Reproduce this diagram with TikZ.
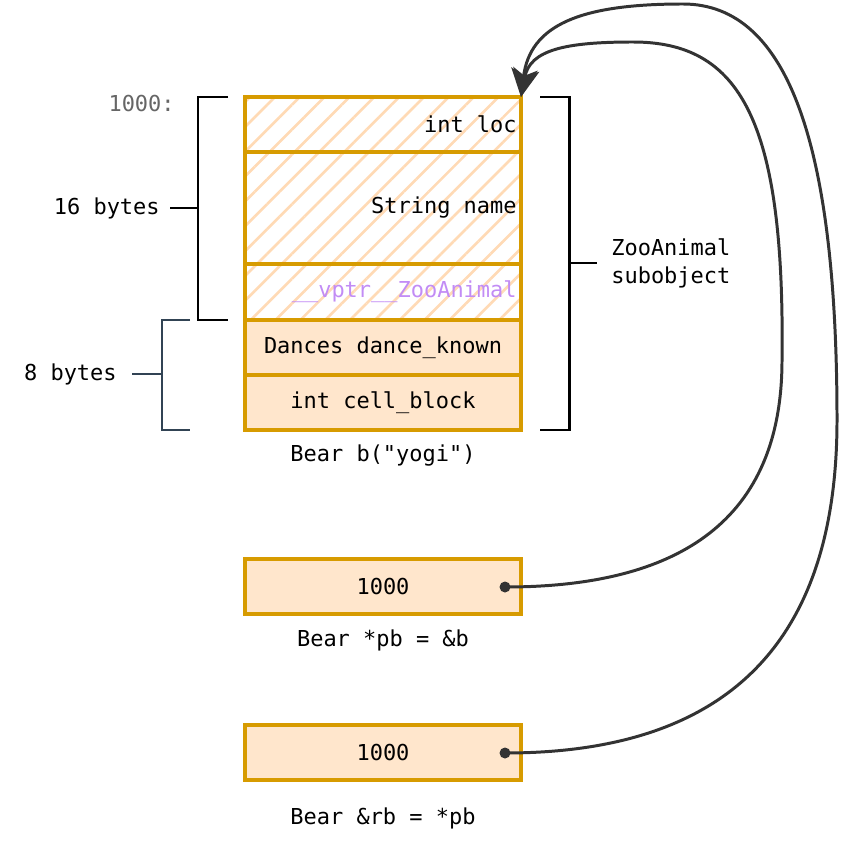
\documentclass[tikz,border=0pt]{standalone}
\usepackage{fontspec}
\usepackage{xcolor}
\usepackage{tikz}
\usetikzlibrary{arrows.meta,patterns.meta}
\newfontfamily\codefont{DejaVu Sans Mono}

\definecolor{boxline}{HTML}{D79B00}
\definecolor{boxfill}{HTML}{FFE6CC}
\definecolor{hatchline}{HTML}{FFDAB5}
\definecolor{vptrtext}{HTML}{C28CF5}
\definecolor{addrgray}{HTML}{666666}
\definecolor{linkline}{HTML}{333333}
\definecolor{slate}{HTML}{314354}

\tikzset{
    mono text/.style={font=\codefont\fontsize{12.5}{16}\selectfont, inner sep=0pt},
    membox/.style={mono text, draw=boxline, line width=2.8pt, minimum width=5.52cm, outer sep=0pt},
    plain cell/.style={membox, fill=boxfill},
    hatch cell/.style={membox, pattern={Lines[angle=45,distance=10pt,line width=1.5pt]},
        pattern color=hatchline},
    brace/.style={line width=1.7pt},
    ptrdot/.style={circle, fill=linkline, minimum size=0.22cm, inner sep=0pt},
    link/.style={draw=linkline, line width=1.7pt, -{Stealth[length=16pt,width=15pt,inset=4pt]}},
}

\begin{document}
\begin{tikzpicture}[x=0.02cm, y=-0.02cm]
        \useasboundingbox (0,0) rectangle (844,844);
        \node (loc) [hatch cell, minimum height=1.1cm] at (383,124.5) {};
        \node (strname) [hatch cell, minimum height=2.24cm] at (383,208) {};
        \node (vptr) [hatch cell, minimum height=1.12cm] at (383,292) {};
        \node (loctext) [mono text, anchor=east] at ([xshift=-0.08cm]loc.east) {int loc};
        \node (strtext) [mono text, anchor=east] at ([xshift=-0.08cm]strname.east) {String name};
        \node (vptrtext) [mono text, anchor=east, text=vptrtext] at ([xshift=-0.08cm]vptr.east)
            {\_\_vptr\_\_ZooAnimal};
        \node (dance) [plain cell, minimum height=1.1cm] at (383,347.5) {Dances dance\_known};
        \node (block) [plain cell, minimum height=1.1cm] at (383,402.5) {int cell\_block};
        \node (bname) [mono text] at (383,456) {Bear b("yogi")};

        \node (addr) [mono text, text=addrgray, anchor=east] at (175,104) {1000:};

        \draw[brace] (228,97) -- (198,97) -- (198,320) -- (228,320);
        \draw[brace] (170,208) -- (198,208);
        \node (sixteen) [mono text, anchor=east] at (160,208) {16 bytes};

        \draw[brace, draw=slate] (190,320) -- (162,320) -- (162,430) -- (190,430);
        \draw[brace, draw=slate] (132,374) -- (162,374);
        \node (eight) [mono text, anchor=east] at (117,374) {8 bytes};

        \draw[brace] (540,97) -- (569,97) -- (569,430) -- (540,430);
        \draw[brace] (569,263) -- (597,263);
        \node (sub) [mono text, anchor=west, align=left] at (611,263) {ZooAnimal\\subobject};

        \node (pb) [plain cell, minimum height=1.1cm] at (383,586.5) {1000};
        \node (pbname) [mono text] at (383,640) {Bear *pb = \&b};
        \node (rb) [plain cell, minimum height=1.1cm] at (383,752.5) {1000};
        \node (rbname) [mono text] at (383,818) {Bear \&rb = *pb};

        \node (pbdot) [ptrdot] at (505,587) {};
        \node (rbdot) [ptrdot] at (505,753) {};

        \draw[link] (pbdot.center) .. controls (680,587) and (782,520) .. (782,360)
            .. controls (785,120) and (740,42) .. (633,42)
            .. controls (565,42) and (530,50) .. (loc.north east);
        \draw[link] (rbdot.center) .. controls (720,753) and (837,650) .. (837,420)
            .. controls (837,150) and (790,4) .. (683,4)
            .. controls (580,4) and (530,25) .. (loc.north east);
    \end{tikzpicture}
\end{document}
